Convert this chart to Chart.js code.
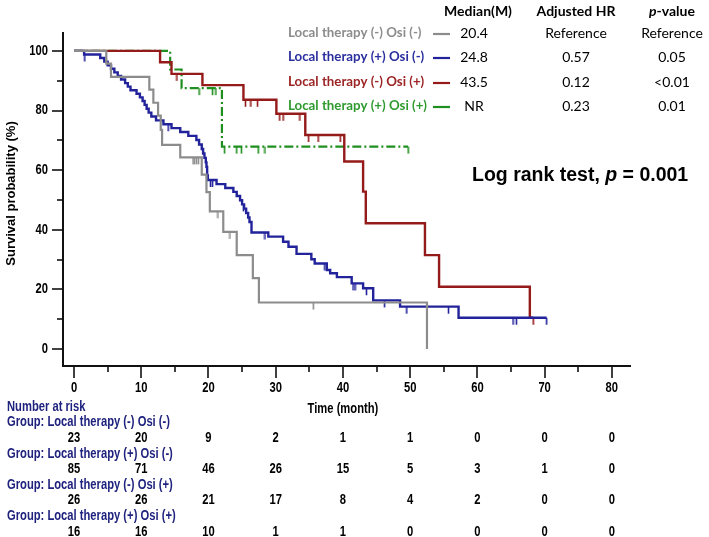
<!DOCTYPE html>
<html><head><meta charset="utf-8">
<script src="https://cdn.jsdelivr.net/npm/chart.js@4.4.0/dist/chart.umd.min.js"></script>
<style>html,body{margin:0;padding:0;background:#fff;}#wrap{width:709px;height:537px;position:relative;}</style>
</head><body><div id="wrap"><canvas id="c" width="709" height="537"></canvas></div>
<script>
// ---------- DATA ----------
const groupNames = ['Local therapy (-) Osi (-)','Local therapy (+) Osi (-)','Local therapy (-) Osi (+)','Local therapy (+) Osi (+)'];
const medians = ['20.4','24.8','43.5','NR'];
const adjustedHR = ['Reference','0.57','0.12','0.23'];
const pValues = ['Reference','0.05','<0.01','0.01'];

// Kaplan-Meier steps: time (months) and survival (%) after each step
const grayTimes = [0,4.8,5.5,11.2,11.8,12.5,12.9,13.1,15.8,19.0,19.7,20.2,22.2,24.2,26.6,27.5,52.5];
const graySurv  = [100,95.7,91.3,87.0,82.6,78.3,73.5,68.5,64.3,58.5,52.6,46.2,39.3,31.5,23.8,15.6,0];
const grayCensor = [17.7,17.9,18.2,18.5,21.4,23.2,35.6];

const blueTimes = [0,1.5,3.9,4.5,5.0,5.5,6.0,6.5,7.0,7.6,8.0,8.4,9.3,9.8,10.2,10.5,10.8,11.1,11.5,12.2,13.3,14.5,15.8,17.0,18.2,18.6,19.0,19.2,19.4,19.6,19.7,19.8,19.9,21.2,22.5,23.7,24.2,24.7,25.0,25.3,25.6,25.9,26.1,26.4,28.9,31.1,31.9,33.1,35.3,35.8,37.6,38.1,39.1,41.3,43.0,44.5,48.5,57.2,70.3];
const blueSurv  = [100,98.8,97.6,96.4,95.2,94.0,92.8,91.6,90.4,89.2,88.0,86.8,85.6,84.4,83.2,81.9,80.6,79.3,78.0,76.7,75.4,74.1,72.8,71.5,70.1,68.6,67.1,65.6,64.1,62.6,61.1,58.2,56.7,55.3,54.0,52.7,51.3,49.9,48.5,47.1,45.6,44.1,42.6,39.1,37.7,36.0,34.3,31.9,30.1,28.7,26.5,25.4,24.1,22.0,20.4,16.3,14.2,10.5,10.5];
const blueCensor = [1.6,14.0,20.3,20.6,25.2,28.4,37.3,41.5,41.8,43.5,46.2,49.5,55.7,65.3,65.8,70.3];

const redTimes = [0,12.8,14.5,19.1,25.2,30.1,34.4,40.2,43.0,43.4,52.2,54.3,67.8,68.3];
const redSurv  = [100,96.2,92.3,88.5,83.6,78.9,71.8,62.9,52.8,42.2,31.5,20.9,10.5,10.5];
const redCensor = [15.3,25.5,26.3,27.3,30.6,31.1,33.6,34.9,36.3,39.6,68.3];

const greenTimes = [0,14.3,16.0,22.0,49.7];
const greenSurv  = [100,93.75,87.5,67.9,67.9];
const greenCensor = [18.6,20.6,21.1,22.4,24.2,24.9,27.4,28.4,49.7];

// Number at risk table
const riskTimes = [0,10,20,30,40,50,60,70,80];
const riskGray  = [23,20,9,2,1,1,0,0,0];
const riskBlue  = [85,71,46,26,15,5,3,1,0];
const riskRed   = [26,26,21,17,8,4,2,0,0];
const riskGreen = [16,16,10,1,1,0,0,0,0];

const xTickValues = [0,10,20,30,40,50,60,70,80];
const yTickValues = [0,20,40,60,80,100];

// ---------- STYLE ----------
const colGray = '#8c8c8c', colBlue = '#22239a', colRed = '#951a1a', colGreen = '#1f8f1f';
const txtGray = '#8c8c8c', txtBlue = '#2a2f9e', txtRed = '#9c2424', txtGreen = '#2f9a2f';
const navy = '#1f237e';
const ARIAL = '"Liberation Sans",Arial,sans-serif';
const CAL = 'Lato,Carlito,Calibri,sans-serif';
const SX = 0.8; // horizontal condensing for the narrow axis font

function stepValue(times, surv, t){
  let v = surv[0];
  for (let i=0;i<times.length;i++){ if (times[i] <= t) v = surv[i]; }
  return v;
}
function tickImage(color){
  const c = document.createElement('canvas');
  c.width = 3; c.height = 16;
  const g = c.getContext('2d');
  g.strokeStyle = color; g.lineWidth = 1.6;
  g.beginPath(); g.moveTo(1.5,8); g.lineTo(1.5,15); g.stroke();
  return c;
}
function curve(times, surv){ return times.map((t,i)=>({x:t,y:surv[i]})); }
function censors(ct, times, surv){ return ct.map(t=>({x:t,y:stepValue(times,surv,t)})); }

const groups = [
  {times:grayTimes, surv:graySurv, cens:grayCensor, col:colGray, w:2.2, dash:[]},
  {times:blueTimes, surv:blueSurv, cens:blueCensor, col:colBlue, w:2.4, dash:[]},
  {times:redTimes, surv:redSurv, cens:redCensor, col:colRed, w:2.4, dash:[]},
  {times:greenTimes, surv:greenSurv, cens:greenCensor, col:colGreen, w:2.2, dash:[9,3,2,3]}
];
const datasets = [];
groups.forEach(g=>{
  datasets.push({type:'line', data:curve(g.times,g.surv), borderColor:g.col, borderWidth:g.w, borderDash:g.dash,
    stepped:'before', pointRadius:0, fill:false, tension:0});
  datasets.push({type:'scatter', data:censors(g.cens,g.times,g.surv), pointStyle:tickImage(g.col), pointRadius:5,
    showLine:false, borderColor:g.col, backgroundColor:g.col});
});

function drawRuns(ctx, runs, x, y, align){
  let total = 0;
  runs.forEach(r=>{ctx.font=r.font; total += ctx.measureText(r.text).width;});
  let cx = align==='center' ? x - total/2 : (align==='right' ? x - total : x);
  ctx.textAlign = 'left';
  runs.forEach(r=>{ctx.font=r.font; ctx.fillStyle=r.color||'#000'; ctx.fillText(r.text,cx,y); cx += ctx.measureText(r.text).width;});
}
function condText(ctx, text, x, y, align){
  ctx.save(); ctx.translate(x,y); ctx.scale(SX,1); ctx.textAlign = align; ctx.fillText(text,0,0); ctx.restore();
}

const decor = {
  id:'decor',
  afterDraw(chart){
    const ctx = chart.ctx, xs = chart.scales.x, ys = chart.scales.y, a = chart.chartArea;
    ctx.save();
    // tick marks
    ctx.strokeStyle = '#111'; ctx.lineWidth = 1.6;
    for (let v=0; v<=80; v+=5){
      const px = Math.round(xs.getPixelForValue(v));
      const len = v%10===0 ? 12 : 6;
      ctx.beginPath(); ctx.moveTo(px, a.bottom); ctx.lineTo(px, a.bottom+len); ctx.stroke();
    }
    for (let v=0; v<=100; v+=10){
      const py = Math.round(ys.getPixelForValue(v));
      const len = v%20===0 ? 11 : 6;
      ctx.beginPath(); ctx.moveTo(a.left, py); ctx.lineTo(a.left-len, py); ctx.stroke();
    }
    // tick labels
    ctx.fillStyle = '#000'; ctx.textBaseline = 'middle';
    ctx.font = 'bold 14px '+ARIAL;
    xTickValues.forEach(v=>condText(ctx, String(v), xs.getPixelForValue(v), a.bottom+22, 'center'));
    yTickValues.forEach(v=>condText(ctx, String(v), a.left-15, ys.getPixelForValue(v), 'right'));
    // axis titles
    ctx.save();
    ctx.translate(11, (a.top+a.bottom)/2 - 6);
    ctx.rotate(-Math.PI/2);
    ctx.font = 'bold 13px '+ARIAL; ctx.textAlign='center';
    ctx.fillText('Survival probability (%)', 0, 0);
    ctx.restore();
    const midX = (xs.getPixelForValue(0)+xs.getPixelForValue(80))/2;
    ctx.font = 'bold 14px '+ARIAL;
    condText(ctx, 'Time (month)', midX, 409, 'center');

    // number at risk table
    const rows = [riskGray, riskBlue, riskRed, riskGreen];
    ctx.fillStyle = navy;
    condText(ctx, 'Number at risk', 7, 407, 'left');
    const step = 15.6;
    rows.forEach((r,i)=>{
      const yl = 407 + step*(1+2*i), yn = 407 + step*(2+2*i);
      ctx.fillStyle = navy;
      condText(ctx, 'Group: '+groupNames[i], 7, yl, 'left');
      ctx.fillStyle = '#000';
      r.forEach((n,j)=>{ condText(ctx, String(n), xs.getPixelForValue(riskTimes[j]), yn, 'center'); });
    });

    // legend table top-right
    const hdrY = 11, rowY = [33,57,82,106];
    const fb = 'bold 14px '+CAL, fbr = 'bold 13.3px '+CAL, fr = '14px '+CAL, fbi = 'italic bold 14px '+CAL;
    drawRuns(ctx,[{text:'Median(M)',font:fb}],478,hdrY,'center');
    drawRuns(ctx,[{text:'Adjusted HR',font:fb}],576,hdrY,'center');
    drawRuns(ctx,[{text:'p',font:fbi},{text:'-value',font:fb}],672,hdrY,'center');
    const tcols = [txtGray, txtBlue, txtRed, txtGreen];
    const lcols = [colGray, colBlue, colRed, colGreen];
    rowY.forEach((yy,i)=>{
      drawRuns(ctx,[{text:groupNames[i],font:fbr,color:tcols[i]}],288,yy,'left');
      ctx.strokeStyle = lcols[i]; ctx.lineWidth = 2.2; ctx.setLineDash([]);
      ctx.beginPath(); ctx.moveTo(433,yy+1); ctx.lineTo(450,yy+1); ctx.stroke();
      drawRuns(ctx,[{text:medians[i],font:fr}],474,yy,'center');
      drawRuns(ctx,[{text:adjustedHR[i],font:fr}],576,yy,'center');
      drawRuns(ctx,[{text:pValues[i],font:fr}],672,yy,'center');
    });

    // log-rank text
    const lf = 'bold 19.5px '+ARIAL, lfi = 'italic bold 19.5px '+ARIAL;
    drawRuns(ctx,[{text:'Log rank test, ',font:lf},{text:'p',font:lfi},{text:' = 0.001',font:lf}],472,176,'left');
    ctx.restore();
  }
};

new Chart(document.getElementById('c'), {
  data:{datasets},
  options:{
    responsive:false, animation:false, devicePixelRatio:1,
    layout:{padding:{left:0, top:33, right:79, bottom:0}},
    plugins:{legend:{display:false}, tooltip:{enabled:false}},
    scales:{
      x:{type:'linear', min:-1.64, max:82.7,
        afterBuildTicks:s=>{s.ticks = xTickValues.map(v=>({value:v}));},
        afterFit:s=>{s.height = 171;},
        grid:{drawOnChartArea:false, display:false},
        border:{display:true, color:'#111', width:2},
        ticks:{display:false}
      },
      y:{type:'linear', min:-5.7, max:106,
        afterBuildTicks:s=>{s.ticks = yTickValues.map(v=>({value:v}));},
        afterFit:s=>{s.width = 63;},
        grid:{drawOnChartArea:false, display:false},
        border:{display:true, color:'#111', width:2},
        ticks:{display:false}
      }
    }
  },
  plugins:[decor]
});
</script></body></html>
